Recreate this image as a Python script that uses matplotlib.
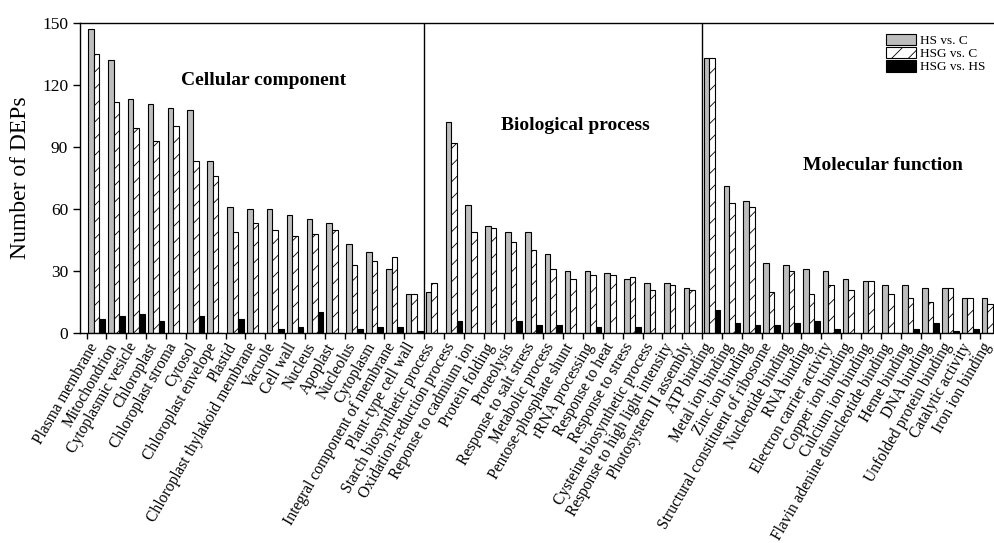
import matplotlib
matplotlib.use("Agg")
import matplotlib.pyplot as plt
import numpy as np

plt.rcParams['font.family'] = ['Liberation Serif', 'DejaVu Serif']
plt.rcParams['hatch.linewidth'] = 0.6

# GO terms, grouped by ontology
cc_terms = ["Plasma membrane", "Mitochondrion", "Cytoplasmic vesicle", "Chloroplast",
            "Chloroplast stroma", "Cytosol", "Chloroplast envelope", "Plastid",
            "Chloroplast thylakoid membrane", "Vacuole", "Cell wall", "Nucleus",
            "Apoplast", "Nucleolus", "Cytoplasm", "Integral component of membrane",
            "Plant-type cell wall"]
cc_hs_c = [147, 132, 113, 111, 109, 108, 83, 61, 60, 60, 57, 55, 53, 43, 39, 31, 19]
cc_hsg_c = [135, 112, 99, 93, 100, 83, 76, 49, 53, 50, 47, 48, 50, 33, 35, 37, 19]
cc_hsg_hs = [7, 8, 9, 6, 0, 8, 0, 7, 0, 2, 3, 10, 0, 2, 3, 3, 1]

bp_terms = ["Starch biosynthetic process", "Oxidation-reduction process",
            "Reponse to cadmium ion", "Protein folding", "Proteolysis",
            "Response to salt stress", "Metabolic process", "Pentose-phosphate shunt",
            "rRNA processing", "Response to heat", "Response to stress",
            "Cysteine biosynthetic process", "Response to high light intensity",
            "Photosystem II assembly"]
bp_hs_c = [20, 102, 62, 52, 49, 49, 38, 30, 30, 29, 26, 24, 24, 22]
bp_hsg_c = [24, 92, 49, 51, 44, 40, 31, 26, 28, 28, 27, 21, 23, 21]
bp_hsg_hs = [0, 6, 0, 0, 6, 4, 4, 0, 3, 0, 3, 0, 0, 0]

mf_terms = ["ATP binding", "Metal ion binding", "Zinc ion binding",
            "Structural constituent of ribosome", "Nucleotide binding", "RNA binding",
            "Electron carrier activity", "Copper ion binding", "Culcium ion binding",
            "Flavin adenine dinucleotide binding", "Heme binding", "DNA binding",
            "Unfolded protein binding", "Catalytic activity", "Iron ion binding"]
mf_hs_c = [133, 71, 64, 34, 33, 31, 30, 26, 25, 23, 23, 22, 22, 17, 17]
mf_hsg_c = [133, 63, 61, 20, 30, 19, 23, 21, 25, 19, 17, 15, 22, 17, 14]
mf_hsg_hs = [11, 5, 4, 4, 5, 6, 2, 0, 0, 0, 2, 5, 1, 2, 0]

sections = ["Cellular component", "Biological process", "Molecular function"]

terms = cc_terms + bp_terms + mf_terms
hs_c = np.array(cc_hs_c + bp_hs_c + mf_hs_c)
hsg_c = np.array(cc_hsg_c + bp_hsg_c + mf_hsg_c)
hsg_hs = np.array(cc_hsg_hs + bp_hsg_hs + mf_hsg_hs)

x = np.arange(len(terms))
w = 0.28

fig = plt.figure(figsize=(9.95, 5.43), dpi=100)
ax = fig.add_axes([0.0804, 0.3867, 0.9196, 0.5709])

ax.bar(x - w, hs_c, w, color='#bdbdbd', edgecolor='black', linewidth=0.8, label='HS vs. C')
ax.bar(x, hsg_c, w, color='white', edgecolor='black', linewidth=0.8, hatch='//',
       label='HSG vs. C')
ax.bar(x + w, hsg_hs, w, color='black', edgecolor='black', linewidth=0.8,
       label='HSG vs. HS')

# separators between the three ontologies
n1 = len(cc_terms)
n2 = n1 + len(bp_terms)
for b in (n1 - 0.5, n2 - 0.5):
    ax.axvline(b, color='black', linewidth=1.0)

ax.text(8.4, 122, sections[0], fontsize=14, fontweight='bold', ha='center', va='center')
ax.text(24.1, 100.5, sections[1], fontsize=14, fontweight='bold', ha='center', va='center')
ax.text(39.6, 81, sections[2], fontsize=14, fontweight='bold', ha='center', va='center')

ax.set_xlim(-0.83, len(terms) - 1 + 0.25)
ax.set_ylim(0, 150)
ax.set_yticks([0, 30, 60, 90, 120, 150])
ax.tick_params(axis='y', labelsize=12.5, direction='out', length=5, width=1)

ax.set_xticks(x - 0.12)
ax.set_xticklabels(terms, rotation=60, ha='right', va='center',
                   rotation_mode='anchor', fontsize=11.2)
ax.tick_params(axis='x', length=0, pad=8)
ax.set_xticks(x - 0.5, minor=True)
ax.tick_params(axis='x', which='minor', direction='out', length=4, width=1)

ax.set_ylabel('Number of DEPs', fontsize=17, labelpad=8)
ax.spines['right'].set_visible(False)
for s in ('left', 'top', 'bottom'):
    ax.spines[s].set_linewidth(1.0)

ax.legend(loc='upper right', bbox_to_anchor=(1.0, 0.995), frameon=False, fontsize=9.5,
          handlelength=2.3, handleheight=0.95, labelspacing=0.0, handletextpad=0.3,
          borderaxespad=0.3)

fig.savefig('out.png', dpi=100)
